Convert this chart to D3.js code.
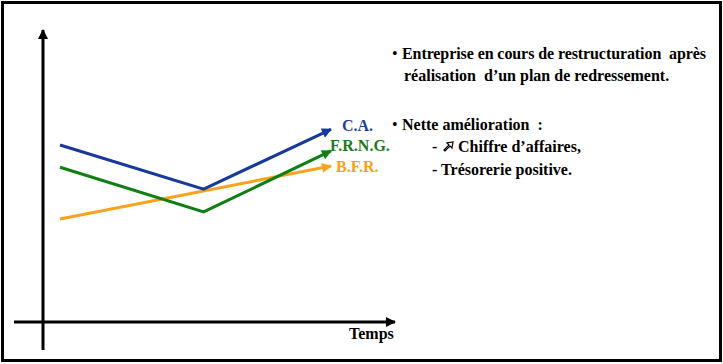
<!DOCTYPE html>
<html><head><meta charset="utf-8">
<script src="https://cdn.jsdelivr.net/npm/d3@7"></script>
<style>
html,body{margin:0;padding:0;background:#fff;}
svg{display:block;}
</style></head>
<body>
<svg id="chart" width="723" height="364"></svg>
<script>
// Time positions (arbitrary units) and series values (arbitrary units)
const times = [0, 5.3, 10];
const seriesNames = ["C.A.", "F.R.N.G.", "B.F.R."];
const caValues = [6.06, 4.55, 6.6];
const frngValues = [5.3, 3.77, 5.86];
const bfrTimes = [0, 10];
const bfrValues = [3.53, 5.34];
const seriesColors = ["#17399c", "#0f7f14", "#f9a21b"];
const labelColors = ["#1f3f9c", "#1b7a1a", "#f7a020"];
const xAxisLabel = "Temps";
const notes = [
  {bullet: true, text: "Entreprise en cours de restructuration  après"},
  {bullet: false, text: "réalisation  d’un plan de redressement."},
  {bullet: true, text: "Nette amélioration  :"},
  {bullet: false, sub: true, arrow: true, text: "Chiffre d’affaires,"},
  {bullet: false, sub: true, text: "- Trésorerie positive."}
];

const FONT = "'Times New Roman', 'Liberation Serif', 'DejaVu Serif', serif";
const svg = d3.select("#chart");
svg.append("rect").attr("x",2.5).attr("y",2.5).attr("width",718).attr("height",358)
  .attr("fill","none").attr("stroke","#000").attr("stroke-width",3);

const x = d3.scaleLinear().domain([0,10]).range([60,331]);
const y = d3.scaleLinear().domain([0,10]).range([322,30]);

const defs = svg.append("defs");
function marker(id, color, w, h){
  defs.append("marker").attr("id",id).attr("viewBox","0 0 10 10")
    .attr("refX",9).attr("refY",5).attr("markerUnits","userSpaceOnUse")
    .attr("markerWidth",w).attr("markerHeight",h).attr("orient","auto")
    .append("path").attr("d","M0,0 L10,5 L0,10 z").attr("fill",color);
}
marker("axarrow","#000",11,10);
seriesColors.forEach((c,i)=>marker("arr"+i,c,12,10));

svg.append("line").attr("x1",43).attr("y1",350).attr("x2",43).attr("y2",y(10))
  .attr("stroke","#000").attr("stroke-width",3).attr("marker-end","url(#axarrow)");
svg.append("line").attr("x1",14).attr("y1",y(0)).attr("x2",395).attr("y2",y(0))
  .attr("stroke","#000").attr("stroke-width",3).attr("marker-end","url(#axarrow)");
svg.append("text").attr("x",349).attr("y",339).attr("font-family",FONT).attr("font-weight","bold")
  .attr("font-size",16).attr("fill","#000").text(xAxisLabel);

const line = d3.line().x(d=>x(d[0])).y(d=>y(d[1]));
const series = [
  d3.zip(times, caValues),
  d3.zip(times, frngValues),
  d3.zip(bfrTimes, bfrValues)
];
[2,1,0].forEach(i=>{
  svg.append("path").attr("d",line(series[i])).attr("fill","none")
    .attr("stroke",seriesColors[i]).attr("stroke-width",3)
    .attr("stroke-linejoin","miter").attr("marker-end","url(#arr"+i+")");
});
const labelPos = [[342,131],[330,151],[336,172]];
seriesNames.forEach((n,i)=>{
  svg.append("text").attr("x",labelPos[i][0]).attr("y",labelPos[i][1])
    .attr("font-family",FONT).attr("font-weight","bold").attr("font-size",16)
    .attr("fill",labelColors[i]).text(n);
});

const noteY = [59, 81, 130, 152, 175];
const noteW = [304, null, null, null, null];
notes.forEach((n,i)=>{
  if(n.bullet){
    svg.append("text").attr("x",392).attr("y",noteY[i]).attr("font-family",FONT)
      .attr("font-size",16).text("•");
  }
  let xPos = n.sub ? 432 : (n.bullet ? 402 : 404);
  if(n.arrow){
    svg.append("text").attr("x",xPos).attr("y",noteY[i]).attr("font-family",FONT)
      .attr("font-weight","bold").attr("font-size",16).text("-");
    // outlined north-east arrow symbol
    const g = svg.append("g").attr("transform",`translate(443,${noteY[i]-11})`);
    g.append("path").attr("d","M1,9 L6,4 L4,2 L10,1 L9,7 L7,5 L2,10 Z")
      .attr("fill","#fff").attr("stroke","#000").attr("stroke-width",1.2).attr("stroke-linejoin","miter");
    xPos = 458;
  }
  const t = svg.append("text").attr("x",xPos).attr("y",noteY[i]).attr("font-family",FONT)
    .attr("font-weight","bold").attr("font-size",16).attr("fill","#000")
    .style("white-space","pre").text(n.text);
  if(noteW[i]) t.attr("textLength",noteW[i]).attr("lengthAdjust","spacing");
});
</script>
</body></html>
